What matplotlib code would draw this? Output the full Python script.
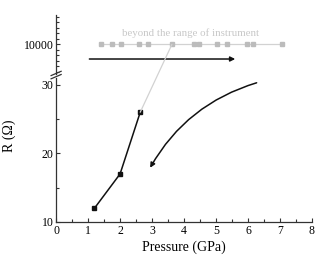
import matplotlib
matplotlib.use("Agg")
import matplotlib.pyplot as plt
from matplotlib.patches import ConnectionPatch, FancyArrowPatch
from matplotlib.ticker import MultipleLocator, FixedLocator

plt.rcParams['font.family'] = ['Liberation Serif', 'DejaVu Serif']

# Data
pressure_low = [1.2, 2.0, 2.63]
resist_low = [12, 17, 26]
pressure_high = [1.41, 1.74, 2.03, 2.59, 2.87, 3.62, 4.31, 4.47, 5.02, 5.33, 5.97, 6.16, 7.05]
resist_high = [10000] * len(pressure_high)
x_ticks = [0, 1, 2, 3, 4, 5, 6, 7, 8]
y_ticks_low = [10, 20, 30]
y_ticks_high = [10000]

fig = plt.figure(figsize=(3.34, 2.68), dpi=100)
ax_lo = fig.add_axes([0.168, 0.172, 0.766, 0.537])
ax_hi = fig.add_axes([0.168, 0.724, 0.766, 0.220])

black = '#111111'
grey_line = '#d2d2d2'
grey_mark = '#bcbcbc'

# Lower axis
ax_lo.plot(pressure_low, resist_low, '-', color=black, lw=1.1, marker='s',
           markersize=3.2, markerfacecolor=black, markeredgecolor=black)
ax_lo.set_xlim(0, 8)
ax_lo.set_ylim(10, 31)
ax_lo.xaxis.set_major_locator(FixedLocator(x_ticks))
ax_lo.xaxis.set_minor_locator(MultipleLocator(0.5))
ax_lo.yaxis.set_major_locator(FixedLocator(y_ticks_low))
ax_lo.yaxis.set_minor_locator(MultipleLocator(5))
ax_lo.spines['top'].set_visible(False)
ax_lo.spines['right'].set_visible(False)
ax_lo.tick_params(which='both', direction='in', labelsize=8.5, width=0.8, color='#333333', pad=2)
ax_lo.tick_params(which='major', length=3)
ax_lo.tick_params(which='minor', length=2)
ax_lo.set_xlabel('Pressure (GPa)', fontsize=10, labelpad=3)
ax_lo.set_ylabel('R (Ω)', fontsize=10)
ax_lo.yaxis.set_label_coords(-0.155, 0.6)
for s in ax_lo.spines.values():
    s.set_linewidth(0.9)
    s.set_color('#333333')

# Upper axis
ax_hi.plot(pressure_high, resist_high, '-', color=grey_line, lw=0.9, marker='s',
           markersize=3.2, markerfacecolor=grey_mark, markeredgecolor=grey_mark)
ax_hi.set_xlim(0, 8)
ax_hi.set_ylim(9464, 10536)
ax_hi.yaxis.set_major_locator(FixedLocator(y_ticks_high))
ax_hi.yaxis.set_minor_locator(MultipleLocator(100))
ax_hi.set_xticks([])
for side in ['top', 'right', 'bottom']:
    ax_hi.spines[side].set_visible(False)
ax_hi.spines['left'].set_linewidth(0.9)
ax_hi.spines['left'].set_color('#333333')
ax_hi.tick_params(which='both', direction='in', labelsize=8.5, width=0.8, color='#333333', pad=2)
ax_hi.tick_params(which='major', length=3)
ax_hi.tick_params(which='minor', length=2)
ax_hi.patch.set_alpha(0)

ax_hi.text(4.19, 10210, 'beyond the range of instrument', color='#c8c8c8',
           fontsize=7.8, ha='center', va='center')

# Straight arrow in upper panel
ax_hi.annotate('', xy=(5.6, 9736), xytext=(1.04, 9736),
               arrowprops=dict(arrowstyle='-|>', color=black, lw=1.1,
                               mutation_scale=7, shrinkA=0, shrinkB=0))

# Grey connecting line across the break
con = ConnectionPatch(xyA=(pressure_low[-1], resist_low[-1]), coordsA=ax_lo.transData,
                      xyB=(pressure_high[5], resist_high[5]), coordsB=ax_hi.transData,
                      color=grey_line, lw=0.9)
fig.add_artist(con)

# Curved arrow in lower panel
arr = FancyArrowPatch((6.27, 30.3), (2.94, 17.9), connectionstyle='arc3,rad=0.2',
                      arrowstyle='-|>', mutation_scale=7, color=black, lw=1.1,
                      shrinkA=0, shrinkB=0)
ax_lo.add_patch(arr)

# Axis break marks (two short slashes on the left spine)
for dy in (0.0, 0.012):
    fig.add_artist(plt.Line2D([0.168 - 0.015, 0.168 + 0.015],
                              [0.706 + dy, 0.722 + dy],
                              transform=fig.transFigure, color='#333333', lw=0.9))

fig.savefig('out.png', dpi=100)
